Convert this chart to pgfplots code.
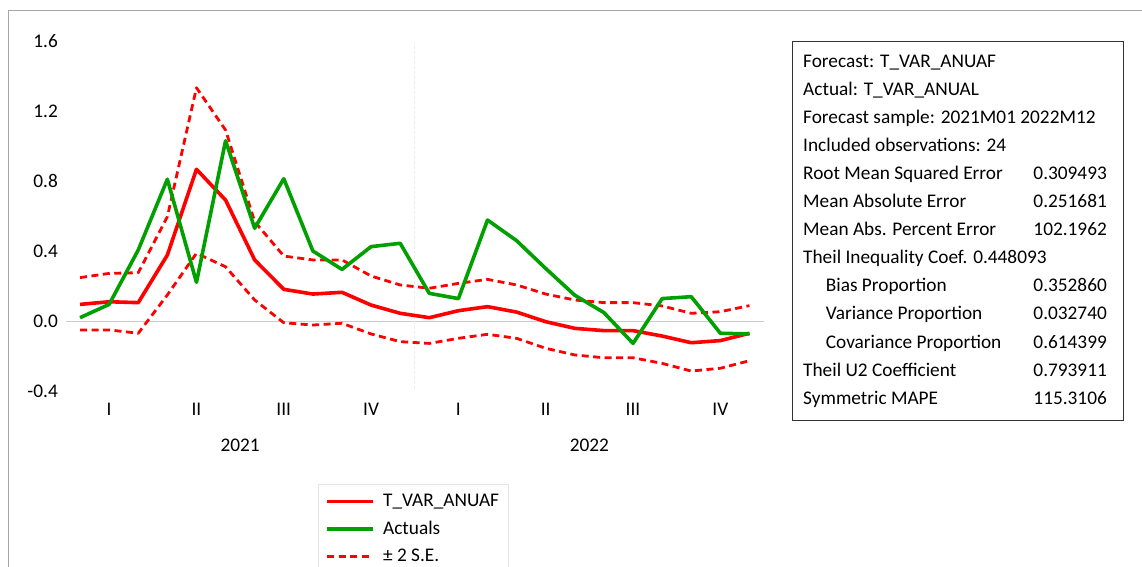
\documentclass[border=0pt]{standalone}
\usepackage{pgfplots}
\pgfplotsset{compat=1.18}
\usepackage{pgfplotstable}
\usepackage{fontspec}
\setmainfont{Carlito}
\newcommand\f{\fontsize{19.3pt}{23pt}\selectfont}
\definecolor{fred}{RGB}{255,0,0}
\definecolor{fgreen}{RGB}{0,160,0}
\pgfplotstableread{
i forecast actual upper lower
0 0.095 0.019 0.248 -0.051
1 0.110 0.095 0.272 -0.051
2 0.105 0.406 0.276 -0.070
3 0.377 0.810 0.596 0.149
4 0.867 0.221 1.333 0.387
5 0.691 1.030 1.091 0.310
6 0.349 0.530 0.568 0.120
7 0.181 0.813 0.371 -0.010
8 0.154 0.400 0.349 -0.023
9 0.164 0.295 0.349 -0.013
10 0.091 0.425 0.257 -0.074
11 0.044 0.444 0.206 -0.118
12 0.019 0.158 0.187 -0.128
13 0.059 0.128 0.215 -0.099
14 0.082 0.577 0.238 -0.076
15 0.051 0.459 0.206 -0.099
16 -0.004 0.300 0.154 -0.156
17 -0.042 0.147 0.120 -0.194
18 -0.055 0.048 0.105 -0.210
19 -0.055 -0.128 0.105 -0.210
20 -0.086 0.128 0.086 -0.242
21 -0.124 0.139 0.044 -0.286
22 -0.112 -0.070 0.053 -0.270
23 -0.070 -0.074 0.088 -0.227
}\data
\begin{document}
\begin{tikzpicture}[x=1pt,y=1pt,font=\f]
\useasboundingbox (0,0) rectangle (1142,566);
% outer frame
\draw[gray!70, line width=1pt] (8,555) -- (1160,555);
\draw[gray!70, line width=1pt] (8,555) -- (8,-20);
\begin{axis}[
  at={(65.5pt,175pt)}, anchor=south west,
  scale only axis, width=698.5pt, height=350pt,
  xmin=-0.5, xmax=23.5, ymin=-0.4, ymax=1.6,
  axis line style={draw=none},
  tick style={draw=none},
  ytick={-0.4,0,0.4,0.8,1.2,1.6},
  yticklabels={-0.4,0.0,0.4,0.8,1.2,1.6},
  yticklabel style={inner sep=0pt, xshift=-7.5pt, font=\f},
  xtick={1,4,7,10,13,16,19,22},
  xticklabels={I,II,III,IV,I,II,III,IV},
  xticklabel style={inner sep=0pt, yshift=-12pt, font=\f},
  clip=false,
  legend style={at={(axis description cs:0.3615,-0.2657)}, anchor=north west,
    draw=gray!20, line width=1pt, font=\f, inner xsep=7pt, inner ysep=8pt,
    row sep=9pt, column sep=6pt, legend cell align=left},
  legend image code/.code={\draw[#1] (0pt,0pt) -- (46pt,0pt);},
]
\addplot[gray!40, line width=1pt, forget plot] coordinates {(-0.5,0) (23.5,0)};
\addplot[gray!15, line width=1.2pt, dash pattern=on 3pt off 2pt, forget plot] coordinates {(11.5,-0.39) (11.5,1.59)};
\addplot[fred, line width=2.8pt, dash pattern=on 7pt off 4.5pt, line join=round, forget plot] table[x=i,y=upper] {\data};
\addplot[fred, line width=2.8pt, dash pattern=on 7pt off 4.5pt, line join=round, forget plot] table[x=i,y=lower] {\data};
\addplot[fred, line width=3.6pt, line join=round, forget plot] table[x=i,y=forecast] {\data};
\addplot[fgreen, line width=3.6pt, line join=round, forget plot] table[x=i,y=actual] {\data};
\addlegendimage{fred, line width=3.6pt}
\addlegendentry{T\_VAR\_ANUAF}
\addlegendimage{fgreen, line width=3.6pt}
\addlegendentry{Actuals}
\addlegendimage{fred, line width=2.8pt, dash pattern=on 7pt off 4.5pt}
\addlegendentry{± 2 S.E.}
\node[anchor=north, inner sep=0pt, yshift=-48pt] at (axis cs:5.5,-0.4) {2021};
\node[anchor=north, inner sep=0pt, yshift=-48pt] at (axis cs:17.5,-0.4) {2022};
\end{axis}
% statistics box
\draw[black!80, line width=1pt] (792,524) rectangle (1123,146);
\foreach \t [count=\k from 0] in {Forecast: T\_VAR\_ANUAF, Actual: T\_VAR\_ANUAL, Forecast sample: 2021M01 2022M12, Included observations: 24, Root Mean Squared Error, Mean Absolute Error, Mean Abs. Percent Error, Theil Inequality Coef. 0.448093}
  \node[anchor=base west, inner sep=0pt] at (803,566-67.7-28.03*\k) {\t};
\foreach \t [count=\k from 8] in {Bias Proportion, Variance Proportion, Covariance Proportion}
  \node[anchor=base west, inner sep=0pt] at (825.7,566-67.7-28.03*\k) {\t};
\foreach \t [count=\k from 11] in {Theil U2 Coefficient, Symmetric MAPE}
  \node[anchor=base west, inner sep=0pt] at (803,566-67.7-28.03*\k) {\t};
\foreach \v [count=\k from 4] in {0.309493, 0.251681, 102.1962}
  \node[anchor=base east, inner sep=0pt] at (1107,566-67.7-28.03*\k) {\v};
\foreach \v [count=\k from 8] in {0.352860, 0.032740, 0.614399, 0.793911, 115.3106}
  \node[anchor=base east, inner sep=0pt] at (1107,566-67.7-28.03*\k) {\v};
\end{tikzpicture}
\end{document}
